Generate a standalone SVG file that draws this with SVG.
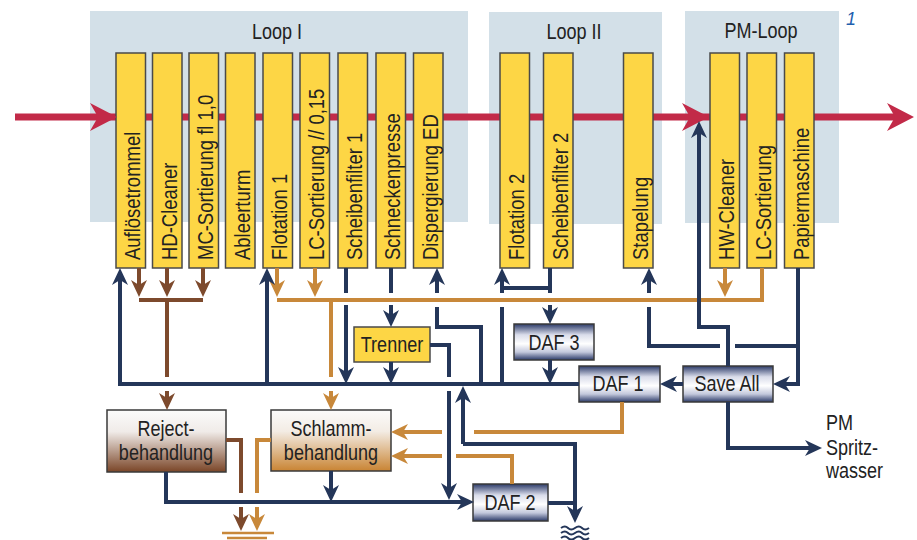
<svg xmlns="http://www.w3.org/2000/svg" width="917" height="540" viewBox="0 0 917 540">
<defs>
<style>
.panel{fill:#d3e0e8}
.box{fill:#fdd645;stroke:#4a4a4a;stroke-width:1.5}
.t{font-family:"Liberation Sans",Arial,sans-serif;font-size:22px;fill:#222}
.title{font-family:"Liberation Sans",Arial,sans-serif;font-size:22px;fill:#222;text-anchor:middle}
.c{text-anchor:middle}
.n{fill:none;stroke:#243659;stroke-width:4}
.b{fill:none;stroke:#7d4a2d;stroke-width:4}
.o{fill:none;stroke:#c8883a;stroke-width:4}
.og{fill:none;stroke:#c8883a;stroke-width:2.5}
.w{fill:none;stroke:#243659;stroke-width:2}
.dk{stroke:#3a3a3a;stroke-width:1.5}
</style>
<marker id="an" markerUnits="userSpaceOnUse" viewBox="-10 -10 20 20" markerWidth="20" markerHeight="20" refX="0" refY="0" orient="auto"><path d="M8,0 L-9,-8 L-4,0 L-9,8 Z" fill="#243659"/></marker>
<marker id="ab" markerUnits="userSpaceOnUse" viewBox="-10 -10 20 20" markerWidth="20" markerHeight="20" refX="0" refY="0" orient="auto"><path d="M8,0 L-9,-8 L-4,0 L-9,8 Z" fill="#7d4a2d"/></marker>
<marker id="ao" markerUnits="userSpaceOnUse" viewBox="-10 -10 20 20" markerWidth="20" markerHeight="20" refX="0" refY="0" orient="auto"><path d="M8,0 L-9,-8 L-4,0 L-9,8 Z" fill="#c8883a"/></marker>
<linearGradient id="gdaf" x1="0" y1="0" x2="0" y2="1">
<stop offset="0" stop-color="#2b3a68"/><stop offset="0.3" stop-color="#d9dcea"/><stop offset="0.55" stop-color="#ffffff"/><stop offset="0.78" stop-color="#c3c8dc"/><stop offset="1" stop-color="#2b3a68"/>
</linearGradient>
<linearGradient id="grej" x1="0" y1="0" x2="0" y2="1">
<stop offset="0" stop-color="#fbfbfb"/><stop offset="0.35" stop-color="#f0ebe8"/><stop offset="1" stop-color="#7a4527"/>
</linearGradient>
<linearGradient id="gsch" x1="0" y1="0" x2="0" y2="1">
<stop offset="0" stop-color="#fbfbfb"/><stop offset="0.35" stop-color="#f3ece4"/><stop offset="1" stop-color="#c98433"/>
</linearGradient>
</defs>

<g id="panels">
<rect class="panel" x="90" y="11" width="378" height="211"/>
<rect class="panel" x="489" y="12" width="173" height="212"/>
<rect class="panel" x="685" y="11" width="154" height="212"/>
<text class="title" transform="translate(277,39) scale(0.82,1)">Loop I</text>
<text class="title" transform="translate(574,39) scale(0.82,1)">Loop II</text>
<text class="title" transform="translate(761,38) scale(0.82,1)">PM-Loop</text>
<text x="846" y="25" style="font-family:'Liberation Sans',Arial,sans-serif;font-size:18px;font-style:italic;fill:#1f5fae">1</text>
</g>

<g id="mainflow">
<line x1="15" y1="117" x2="900" y2="117" stroke="#c22a48" stroke-width="7"/>
</g>

<g id="n-aufloesetrommel"><rect class="box" x="116" y="53" width="29.5" height="215"/><text class="t" transform="translate(140,260) rotate(-90) scale(0.84,1)">Auflösetrommel</text></g>
<g id="n-hd-cleaner"><rect class="box" x="152.5" y="53" width="29.5" height="215"/><text class="t" transform="translate(176.5,260) rotate(-90) scale(0.84,1)">HD-Cleaner</text></g>
<g id="n-mc-sortierung"><rect class="box" x="189" y="53" width="29.5" height="215"/><text class="t" transform="translate(213,260) rotate(-90) scale(0.84,1)">MC-Sortierung fl 1,0</text></g>
<g id="n-ableerturm"><rect class="box" x="225.5" y="53" width="29.5" height="215"/><text class="t" transform="translate(249.5,260) rotate(-90) scale(0.84,1)">Ableerturm</text></g>
<g id="n-flotation1"><rect class="box" x="263" y="53" width="29.5" height="215"/><text class="t" transform="translate(287,260) rotate(-90) scale(0.84,1)">Flotation 1</text></g>
<g id="n-lc-sortierung1"><rect class="box" x="300" y="53" width="29.5" height="215"/><text class="t" transform="translate(324,260) rotate(-90) scale(0.84,1)">LC-Sortierung // 0,15</text></g>
<g id="n-scheibenfilter1"><rect class="box" x="338" y="53" width="29.5" height="215"/><text class="t" transform="translate(362,260) rotate(-90) scale(0.84,1)">Scheibenfilter 1</text></g>
<g id="n-schneckenpresse"><rect class="box" x="376" y="53" width="29.5" height="215"/><text class="t" transform="translate(400,260) rotate(-90) scale(0.84,1)">Schneckenpresse</text></g>
<g id="n-dispergierung"><rect class="box" x="413.5" y="53" width="29.5" height="215"/><text class="t" transform="translate(437.5,260) rotate(-90) scale(0.84,1)">Dispergierung ED</text></g>
<g id="n-flotation2"><rect class="box" x="500" y="53" width="29.5" height="215"/><text class="t" transform="translate(524,260) rotate(-90) scale(0.84,1)">Flotation 2</text></g>
<g id="n-scheibenfilter2"><rect class="box" x="543.5" y="53" width="29.5" height="215"/><text class="t" transform="translate(567.5,260) rotate(-90) scale(0.84,1)">Scheibenfilter 2</text></g>
<g id="n-stapelung"><rect class="box" x="623.5" y="53" width="29.5" height="215"/><text class="t" transform="translate(647.5,260) rotate(-90) scale(0.84,1)">Stapelung</text></g>
<g id="n-hw-cleaner"><rect class="box" x="710" y="53" width="29.5" height="215"/><text class="t" transform="translate(734,260) rotate(-90) scale(0.84,1)">HW-Cleaner</text></g>
<g id="n-lc-sortierung2"><rect class="box" x="747" y="53" width="29.5" height="215"/><text class="t" transform="translate(771,260) rotate(-90) scale(0.84,1)">LC-Sortierung</text></g>
<g id="n-papiermaschine"><rect class="box" x="784.5" y="53" width="29.5" height="215"/><text class="t" transform="translate(808.5,260) rotate(-90) scale(0.84,1)">Papiermaschine</text></g>

<g id="mainflow-heads" fill="#c22a48">
<polygon points="117,117 90,103 98,117 90,131"/>
<polygon points="709,117 682,103 690,117 682,131"/>
<polygon points="914,117 887,103 895,117 887,131"/>
</g>

<g id="n-trenner"><rect class="box" x="354" y="327" width="76" height="35"/><text class="t c" transform="translate(392,352) scale(0.82,1)">Trenner</text></g>
<g id="n-daf3"><rect x="514" y="324" width="80" height="36" fill="url(#gdaf)" class="dk"/><text class="t c" transform="translate(554,350) scale(0.82,1)">DAF 3</text></g>
<g id="n-daf1"><rect x="579" y="366" width="81" height="36" fill="url(#gdaf)" class="dk"/><text class="t c" transform="translate(618,391) scale(0.82,1)">DAF 1</text></g>
<g id="n-saveall"><rect x="683" y="366" width="90" height="36" fill="url(#gdaf)" class="dk"/><text class="t c" transform="translate(727,391) scale(0.82,1)">Save All</text></g>
<g id="n-daf2"><rect x="473" y="484" width="75" height="37" fill="url(#gdaf)" class="dk"/><text class="t c" transform="translate(510,510) scale(0.82,1)">DAF 2</text></g>
<g id="n-reject"><rect x="107" y="410" width="119" height="62" fill="url(#grej)" class="dk"/><text class="t c" transform="translate(166,436) scale(0.82,1)">Reject-</text><text class="t c" transform="translate(166,460) scale(0.82,1)">behandlung</text></g>
<g id="n-schlamm"><rect x="271" y="410" width="120" height="61" fill="url(#gsch)" class="dk"/><text class="t c" transform="translate(331,436) scale(0.82,1)">Schlamm-</text><text class="t c" transform="translate(331,460) scale(0.82,1)">behandlung</text></g>
<g id="n-spritzwasser"><text class="t" transform="translate(826,430) scale(0.82,1)">PM</text><text class="t" transform="translate(826,455) scale(0.82,1)">Spritz-</text><text class="t" transform="translate(826,478) scale(0.82,1)">wasser</text></g>

<g id="connectors">
<path class="o" d="M277,300 H762 V268"/>
<path class="o" d="M277,268 V289" marker-end="url(#ao)"/>
<path class="o" d="M315,268 V289" marker-end="url(#ao)"/>
<path class="o" d="M725,268 V289" marker-end="url(#ao)"/>
<path class="o" d="M331,300 V377"/>
<path class="o" d="M331,391 V402" marker-end="url(#ao)"/>
<path class="o" d="M271,440 H257 V493"/>
<path class="o" d="M257,507 V523" marker-end="url(#ao)"/>
<path class="o" d="M622,402 V432 H474"/>
<path class="o" d="M442,432 H399" marker-end="url(#ao)"/>
<path class="o" d="M512,484 V456 H456"/>
<path class="o" d="M442,456 H399" marker-end="url(#ao)"/>
<path class="og" d="M222,533 H274"/>
<path class="og" d="M227,538 H267"/>

<path class="b" d="M139,268 V289" marker-end="url(#ab)"/>
<path class="b" d="M167,268 V289" marker-end="url(#ab)"/>
<path class="b" d="M203,268 V289" marker-end="url(#ab)"/>
<path class="b" d="M139,300 H203"/>
<path class="b" d="M167,300 V377"/>
<path class="b" d="M167,391 V402" marker-end="url(#ab)"/>
<path class="b" d="M226,440 H241 V493"/>
<path class="b" d="M241,507 V523" marker-end="url(#ab)"/>

<path class="n" d="M579,384 H120 V276" marker-end="url(#an)"/>
<path class="n" d="M267,384 V276" marker-end="url(#an)"/>
<path class="n" d="M346,268 V293"/>
<path class="n" d="M346,305 V376" marker-end="url(#an)"/>
<path class="n" d="M391,268 V293"/>
<path class="n" d="M391,305 V319" marker-end="url(#an)"/>
<path class="n" d="M391,362 V376" marker-end="url(#an)"/>
<path class="n" d="M430,345 H449 V377"/>
<path class="n" d="M449,391 V492" marker-end="url(#an)"/>
<path class="n" d="M481,384 V327 H437 V307"/>
<path class="n" d="M437,293 V276" marker-end="url(#an)"/>
<path class="n" d="M502,384 V307"/>
<path class="n" d="M502,293 V276" marker-end="url(#an)"/>
<path class="n" d="M550,268 V293"/>
<path class="n" d="M550,288 H502"/>
<path class="n" d="M550,305 V316" marker-end="url(#an)"/>
<path class="n" d="M550,360 V376" marker-end="url(#an)"/>
<path class="n" d="M683,384 H668" marker-end="url(#an)"/>
<path class="n" d="M798,268 V384 H781" marker-end="url(#an)"/>
<path class="n" d="M798,346 H735"/>
<path class="n" d="M720,346 H649 V307"/>
<path class="n" d="M649,293 V276" marker-end="url(#an)"/>
<path class="n" d="M728,366 V327 H699 V129" marker-end="url(#an)"/>
<path class="n" d="M728,402 V448 H814" marker-end="url(#an)"/>
<path class="n" d="M166,472 V502 H466" marker-end="url(#an)"/>
<path class="n" d="M331,471 V494" marker-end="url(#an)"/>
<path class="n" d="M463,444 V394" marker-end="url(#an)"/>
<path class="n" d="M463,444 H575 V515" marker-end="url(#an)"/>
<path class="n" d="M548,503 H575"/>
<path class="w" d="M561,528 q4,-3 7,0 t7,0 t7,0 t7,0"/>
<path class="w" d="M561,533 q4,-3 7,0 t7,0 t7,0 t7,0"/>
<path class="w" d="M561,538 q4,-3 7,0 t7,0 t7,0 t7,0"/>
</g>
</svg>
